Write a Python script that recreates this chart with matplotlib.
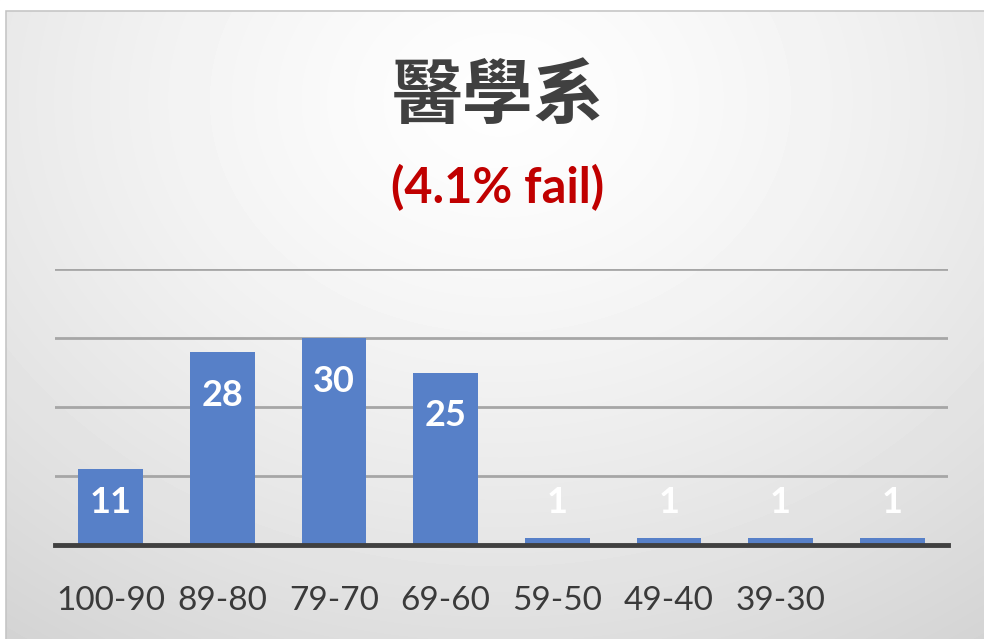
import matplotlib
matplotlib.use("Agg")
import matplotlib.pyplot as plt
import numpy as np

# score bands and number of students
bands = ["100-90", "89-80", "79-70", "69-60", "59-50", "49-40", "39-30", ""]
counts = [11, 28, 30, 25, 1, 1, 1, 1]
title = "醫學系"
subtitle = "(4.1% fail)"

W, H = 984, 639
fig = plt.figure(figsize=(W / 100, H / 100), dpi=100)

# background panel with soft radial gradient and grey frame
bg = fig.add_axes([0, 0, 1, 1])
yy, xx = np.mgrid[0:H, 0:W]
r = np.sqrt(((xx - 500) / 700.0) ** 2 + ((yy - 100) / 560.0) ** 2)
shade = np.clip(0.995 - 0.13 * r ** 1.4, 0.83, 1.0)
bg.imshow(shade, cmap="gray", vmin=0, vmax=1, extent=[0, W, H, 0], aspect="auto")
bg.add_patch(plt.Rectangle((4, 9), W + 20, H + 20, fill=False, ec="#c4c4c4", lw=4))
bg.add_patch(plt.Rectangle((0, 0), 4, H, color="white"))
bg.add_patch(plt.Rectangle((0, 0), W, 9, color="white"))
bg.set_xlim(0, W)
bg.set_ylim(H, 0)
bg.axis("off")

ax = fig.add_axes([55 / W, 1 - 545 / H, 893 / W, 276 / H])
ax.patch.set_alpha(0)
x = np.arange(len(counts))
ax.bar(x, counts, width=0.58, color="#5780c8", zorder=3)
ax.set_xlim(-0.5, len(counts) - 0.5)
ax.set_ylim(0, 40)
ax.set_yticks([10, 20, 30, 40])
ax.yaxis.grid(True, color="#a6a6a6", lw=2, zorder=1)
ax.tick_params(left=False, labelleft=False, bottom=False)
for s in ["top", "right", "left"]:
    ax.spines[s].set_visible(False)
ax.spines["bottom"].set_color("#404040")
ax.spines["bottom"].set_linewidth(3.5)
ax.spines["bottom"].set_zorder(4)
ax.set_xticks(x)
ax.set_xticklabels(bands, fontfamily="Lato", fontsize=24, color="#3a3a3a")
ax.tick_params(axis="x", pad=26)

for xi, v in zip(x, counts):
    ax.text(xi, max(v - 6.3, 6.1), str(v), ha="center", va="center",
            fontfamily="Lato", fontweight="bold", fontsize=26, color="white", zorder=5)

fig.text(498 / W, 1 - 97 / H, title, ha="center", va="center",
         fontfamily=["Noto Sans CJK TC", "DejaVu Sans"], fontweight="bold",
         fontsize=51, color="#404040")
fig.text(498 / W, 1 - 188 / H, subtitle, ha="center", va="center",
         fontfamily="Lato", fontweight="bold", fontsize=35, color="#c00000")

fig.savefig("out.png", dpi=100)
